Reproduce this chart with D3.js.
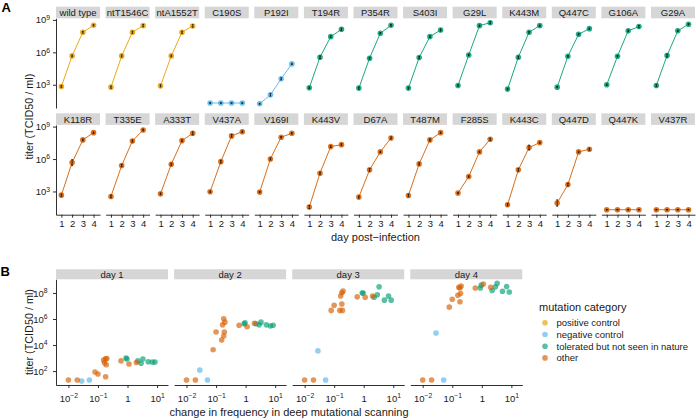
<!DOCTYPE html>
<html><head><meta charset="utf-8">
<script src="https://cdn.jsdelivr.net/npm/d3@7"></script>
<style>body{margin:0;background:#fff}</style>
</head><body><svg id="c" width="696" height="420" xmlns="http://www.w3.org/2000/svg"></svg>
<script>
// ---------------- data ----------------
const mutants = ["wild type","ntT1546C","ntA1552T","C190S","P192I","T194R","P354R","S403I","G29L","K443M","Q447C","G106A","G29A",
                 "K118R","T335E","A333T","V437A","V169I","K443V","D67A","T487M","F285S","K443C","Q447D","Q447K","V437R"];
const mutantCategory = ["pos","pos","pos","neg","neg","tol","tol","tol","tol","tol","tol","tol","tol",
                        "other","other","other","other","other","other","other","other","other","other","other","other","other"];
// log10 titer (TCID50 / ml) by day post-infection
const log10TiterDay1 = [2.84,2.78,2.90,1.31,1.24,2.72,2.69,2.69,2.93,2.60,2.78,3.00,2.93, 2.66,2.54,2.78,2.97,2.94,1.56,2.48,2.63,2.85,1.77,1.93,1.31,1.31];
const log10TiterDay2 = [5.67,5.67,5.67,1.31,2.07,5.55,5.46,5.52,5.76,5.55,5.64,5.64,5.70, 5.67,5.40,5.52,5.76,6.01,4.69,5.00,5.55,4.38,5.00,3.64,1.31,1.31];
const log10TiterDay3 = [7.86,7.86,7.86,1.31,3.55,7.45,7.77,7.45,8.47,7.86,7.67,7.99,7.99, 7.77,7.67,7.70,8.14,8.02,7.15,6.66,7.77,6.66,7.06,6.66,1.31,1.31];
const log10TiterDay4 = [8.50,8.47,8.44,1.31,4.93,8.13,8.50,8.07,8.74,8.47,8.19,8.38,8.60, 8.44,8.69,8.38,8.53,8.38,7.33,7.95,8.44,7.83,7.52,6.91,1.31,1.31];
// error bar half-widths (log10 units)
const log10ErrDay1 = [0.08,0.10,0.10,0.03,0.05,0.08,0.10,0.08,0.06,0.08,0.06,0.06,0.10, 0.10,0.12,0.08,0.06,0.06,0.14,0.10,0.12,0.06,0.10,0.30,0.03,0.03];
const log10ErrDay2 = [0.08,0.10,0.08,0.03,0.12,0.12,0.08,0.10,0.06,0.10,0.06,0.06,0.14, 0.28,0.10,0.10,0.12,0.10,0.10,0.12,0.10,0.06,0.12,0.12,0.03,0.03];
const log10ErrDay3 = [0.08,0.10,0.10,0.03,0.10,0.08,0.06,0.08,0.06,0.08,0.06,0.08,0.06, 0.08,0.10,0.08,0.12,0.06,0.08,0.06,0.10,0.06,0.22,0.06,0.03,0.03];
const log10ErrDay4 = [0.06,0.10,0.12,0.03,0.06,0.10,0.08,0.10,0.10,0.06,0.06,0.10,0.06, 0.06,0.08,0.14,0.08,0.06,0.08,0.10,0.06,0.10,0.06,0.10,0.03,0.03];
// log10 change in frequency in deep mutational scanning (null = not in panel B)
const log10DmsChange = [null,null,null,-1.29,-1.55,0.70,0.84,0.93,0.52,0.46,0.35,-0.05,-0.02,
                        0.30,0.05,-0.22,-0.70,-0.74,-0.74,-0.72,-0.78,-0.81,-1.00,-1.10,-2.00,-1.70];
const days = [1,2,3,4];
const dayStripLabels = ["day 1","day 2","day 3","day 4"];
const categoryKeys = ["pos","neg","tol","other"];
const categoryNames = ["positive control","negative control","tolerated but not seen in nature","other"];
const categoryColors = ["#E69F00","#56B4E9","#009E73","#D55E00"];
const yTickExpA = [3,6,9];
const yTickExpB = [2,4,6,8];
const xTickExpB = [-2,-1,0,1];

// ---------------- drawing ----------------
const FONT = '"Liberation Sans", Arial, Helvetica, sans-serif';
const INK = "#1a1a1a";
const svg = d3.select("#c");
svg.append("rect").attr("width",696).attr("height",420).attr("fill","#fff");
const color = d3.scaleOrdinal().domain(categoryKeys).range(categoryColors);
const titers = [log10TiterDay1,log10TiterDay2,log10TiterDay3,log10TiterDay4];
const errs = [log10ErrDay1,log10ErrDay2,log10ErrDay3,log10ErrDay4];

function powLabel(sel){
  sel.each(function(d){
    const t = d3.select(this);
    const e = Math.round(Math.log10(d));
    t.text(null);
    if(e===0){ t.text("1"); return; }
    t.append("tspan").text("10");
    t.append("tspan").attr("dy","-0.48em").attr("font-size","6.8px").text(e<0 ? "\u2212"+(-e) : String(e));
  });
}
function styleAxis(g){
  g.attr("font-family",FONT).attr("font-size","9.5px");
  g.select(".domain").attr("stroke",INK).attr("stroke-width",0.9);
  g.selectAll(".tick line").attr("stroke",INK).attr("stroke-width",0.9);
  g.selectAll(".tick text").attr("fill",INK);
}

// ---- Panel A ----
const A = {left:56, step:49.58, w:44, perRow:13, stripTop:[6.7,113.3], stripH:11.6, panelTop:[18.3,125], panelH:89.7};
const xA = d3.scaleLinear().domain([0.5,4.6]).range([0,A.w]);
const yA = d3.scaleLog().domain([Math.pow(10,0.85),Math.pow(10,9.15)]).range([A.panelH,0]);
const lineA = d3.line().x(d=>xA(d.day)).y(d=>yA(d.v));

mutants.forEach((m,i)=>{
  const row = Math.floor(i/A.perRow), col = i%A.perRow;
  const gx = A.left + col*A.step;
  svg.append("rect").attr("x",gx).attr("y",A.stripTop[row]).attr("width",A.w).attr("height",A.stripH).attr("fill","#d6d6d6");
  svg.append("text").attr("x",gx+A.w/2).attr("y",A.stripTop[row]+9.2).attr("text-anchor","middle")
     .attr("font-family",FONT).attr("font-size","9.5px").attr("fill",INK).text(m);
  const g = svg.append("g").attr("transform",`translate(${gx},${A.panelTop[row]})`);
  const c = color(mutantCategory[i]);
  const pts = days.map((d,j)=>({day:d, v:Math.pow(10,titers[j][i]),
        lo:Math.pow(10,titers[j][i]-errs[j][i]), hi:Math.pow(10,titers[j][i]+errs[j][i])}));
  g.append("path").attr("d",lineA(pts)).attr("fill","none").attr("stroke",c).attr("stroke-width",0.9);
  g.selectAll("circle").data(pts).join("circle").attr("cx",d=>xA(d.day)).attr("cy",d=>yA(d.v))
     .attr("r",2.8).attr("fill",c).attr("fill-opacity",0.85);
  const eb = g.append("g").attr("stroke","#000").attr("stroke-width",0.7);
  pts.forEach(d=>{
    const x = xA(d.day);
    eb.append("line").attr("x1",x).attr("x2",x).attr("y1",yA(d.lo)).attr("y2",yA(d.hi));
    eb.append("line").attr("x1",x-0.9).attr("x2",x+0.9).attr("y1",yA(d.lo)).attr("y2",yA(d.lo));
    eb.append("line").attr("x1",x-0.9).attr("x2",x+0.9).attr("y1",yA(d.hi)).attr("y2",yA(d.hi));
  });
  if(row===1){
    const ax = g.append("g").attr("transform",`translate(0,${A.panelH})`)
      .call(d3.axisBottom(xA).tickValues(days).tickFormat(d3.format("d")).tickSize(3).tickPadding(2.3).tickSizeOuter(0));
    styleAxis(ax);
  }
  if(col===0){
    const ay = g.append("g").call(d3.axisLeft(yA).tickValues(yTickExpA.map(e=>Math.pow(10,e))).tickSize(3).tickPadding(3).tickSizeOuter(0));
    styleAxis(ay);
    ay.selectAll(".tick text").call(powLabel);
  }
});
svg.append("text").attr("transform","translate(32.5,116.6) rotate(-90)").attr("text-anchor","middle")
   .attr("font-family",FONT).attr("font-size","10.8px").attr("fill",INK).text("titer (TCID50 / ml)");
svg.append("text").attr("x",375.5).attr("y",241).attr("text-anchor","middle")
   .attr("font-family",FONT).attr("font-size","11px").attr("fill",INK).text("day post\u2212infection");
svg.append("text").attr("x",1.5).attr("y",11.5).attr("font-family",FONT).attr("font-weight","bold").attr("font-size","13px").attr("fill","#000").text("A");

// ---- Panel B ----
const B = {left:56, step:118.1, w:112, stripTop:269.3, stripH:10, panelTop:279.3, panelH:105.7};
const xB = d3.scaleLog().domain([Math.pow(10,-2.42),Math.pow(10,1.37)]).range([0,B.w]);
const yB = d3.scaleLog().domain([Math.pow(10,0.93),Math.pow(10,9.05)]).range([B.panelH,0]);
days.forEach((day,j)=>{
  const gx = B.left + j*B.step;
  svg.append("rect").attr("x",gx).attr("y",B.stripTop).attr("width",B.w).attr("height",B.stripH).attr("fill","#d6d6d6");
  svg.append("text").attr("x",gx+B.w/2).attr("y",B.stripTop+8.2).attr("text-anchor","middle")
     .attr("font-family",FONT).attr("font-size","9.5px").attr("fill",INK).text(dayStripLabels[j]);
  const g = svg.append("g").attr("transform",`translate(${gx},${B.panelTop})`);
  const pts = mutants.map((m,i)=>({m, cat:mutantCategory[i], x:log10DmsChange[i], y:titers[j][i]}))
                     .filter(d=>d.x!==null);
  g.selectAll("circle").data(pts).join("circle")
    .attr("cx",d=>xB(Math.pow(10,d.x))).attr("cy",d=>yB(Math.pow(10,d.y))).attr("r",2.8)
    .attr("fill",d=>color(d.cat)).attr("fill-opacity",0.65);
  const ax = g.append("g").attr("transform",`translate(0,${B.panelH})`)
     .call(d3.axisBottom(xB).tickValues(xTickExpB.map(e=>Math.pow(10,e))).tickSize(3).tickPadding(7).tickSizeOuter(0));
  styleAxis(ax);
  ax.selectAll(".tick text").call(powLabel);
  if(j===0){
    const ay = g.append("g").call(d3.axisLeft(yB).tickValues(yTickExpB.map(e=>Math.pow(10,e))).tickSize(3).tickPadding(5.5).tickSizeOuter(0));
    styleAxis(ay);
    ay.selectAll(".tick text").call(powLabel);
  }
});
svg.append("text").attr("transform","translate(32.5,332) rotate(-90)").attr("text-anchor","middle")
   .attr("font-family",FONT).attr("font-size","10.8px").attr("fill",INK).text("titer (TCID50 / ml)");
svg.append("text").attr("x",289).attr("y",416).attr("text-anchor","middle")
   .attr("font-family",FONT).attr("font-size","11px").attr("fill",INK).text("change in frequency in deep mutational scanning");
svg.append("text").attr("x",0.5).attr("y",275.5).attr("font-family",FONT).attr("font-weight","bold").attr("font-size","13px").attr("fill","#000").text("B");

// ---- Legend ----
const leg = svg.append("g");
leg.append("text").attr("x",539).attr("y",311).attr("font-family",FONT).attr("font-size","11px").attr("fill",INK).text("mutation category");
categoryKeys.forEach((k,i)=>{
  const y = 322.8 + i*11.7;
  leg.append("circle").attr("cx",545).attr("cy",y).attr("r",2.8).attr("fill",color(k)).attr("fill-opacity",0.65);
  leg.append("text").attr("x",556.5).attr("y",y+3.4).attr("font-family",FONT).attr("font-size","9.5px").attr("fill",INK).text(categoryNames[i]);
});
</script></body></html>
